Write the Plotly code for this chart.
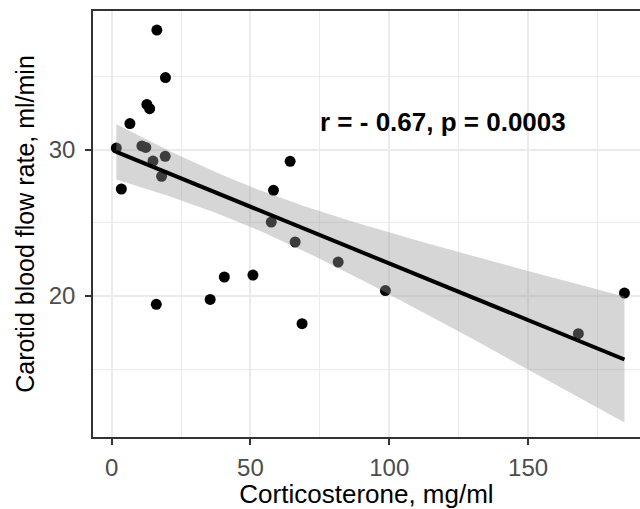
import numpy as np
import plotly.graph_objects as go

# Data
corticosterone = [16.3, 19.4, 12.7, 13.7, 6.6, 1.7, 10.9, 12.3, 14.9, 19.3, 18.0, 3.5,
                  16.1, 64.3, 58.3, 57.5, 66.1, 40.6, 50.9, 35.5, 68.6, 81.6, 98.6,
                  184.7, 168.1]
flow_rate = [38.17, 34.92, 33.09, 32.80, 31.78, 30.11, 30.25, 30.15, 29.22, 29.54, 28.18, 27.31,
             19.43, 29.2, 27.22, 25.05, 23.69, 21.30, 21.43, 19.77, 18.11, 22.32, 20.37,
             20.2, 17.43]
annotation_text = "r = - 0.67, p = 0.0003"
x_ticks = [0, 50, 100, 150]
y_ticks = [20, 30]
BAND_MULT = 1.53  # band half-width multiplier, matched to the reference ribbon

x = np.array(corticosterone, dtype=float)
y = np.array(flow_rate, dtype=float)
n = len(x)
A = np.vstack([np.ones(n), x]).T
coef, *_ = np.linalg.lstsq(A, y, rcond=None)
resid = y - A @ coef
s = np.sqrt(np.sum(resid ** 2) / (n - 2))
xm = x.mean()
sxx = np.sum((x - xm) ** 2)
xs = np.linspace(x.min(), x.max(), 80)
yfit = coef[0] + coef[1] * xs
se = s * np.sqrt(1.0 / n + (xs - xm) ** 2 / sxx)
lo = yfit - BAND_MULT * se
hi = yfit + BAND_MULT * se

FONT = "Liberation Sans, Arial"

fig = go.Figure()
fig.add_trace(go.Scatter(x=x, y=y, mode="markers",
                         marker=dict(color="black", size=11, line=dict(width=0)),
                         hoverinfo="skip", showlegend=False))
fig.add_trace(go.Scatter(x=np.concatenate([xs, xs[::-1]]),
                         y=np.concatenate([hi, lo[::-1]]),
                         mode="lines", fill="toself",
                         fillcolor="rgba(153,153,153,0.4)",
                         line=dict(width=0), hoverinfo="skip", showlegend=False))
fig.add_trace(go.Scatter(x=xs, y=yfit, mode="lines",
                         line=dict(color="black", width=4),
                         hoverinfo="skip", showlegend=False))

fig.add_annotation(x=119.4, y=31.89, text="<b>" + annotation_text + "</b>", showarrow=False,
                   font=dict(family=FONT, size=26, color="black"),
                   xanchor="center", yanchor="middle")

axis_common = dict(
    showgrid=True, gridcolor="#ebebeb", gridwidth=2,
    zeroline=False,
    showline=True, linecolor="#333333", linewidth=1.6,
    ticks="outside", ticklen=6, tickwidth=1.6, tickcolor="#333333",
    tickfont=dict(family=FONT, size=24, color="#4d4d4d"),
)

fig.update_xaxes(**axis_common, range=[-6.7, 190.3], tickvals=x_ticks, mirror=True,
                 ticklabelstandoff=2,
                 minor=dict(tickvals=[25, 75, 125, 175], showgrid=True,
                            gridcolor="#ebebeb", gridwidth=1, ticks=""),
                 title=dict(text="Corticosterone, mg/ml", standoff=4,
                            font=dict(family=FONT, size=26, color="black")))
fig.update_yaxes(**axis_common, range=[10.37, 39.47], tickvals=y_ticks, mirror=False,
                 ticklabelstandoff=5,
                 minor=dict(tickvals=[15, 25, 35], showgrid=True,
                            gridcolor="#ebebeb", gridwidth=1, ticks=""),
                 title=dict(text="Carotid blood flow rate, ml/min", standoff=7,
                            font=dict(family=FONT, size=25, color="black")))

fig.update_layout(width=640, height=509,
                  margin=dict(l=93, r=0, t=11, b=72, pad=0),
                  paper_bgcolor="white", plot_bgcolor="white",
                  showlegend=False)

fig.write_html("out.html")
